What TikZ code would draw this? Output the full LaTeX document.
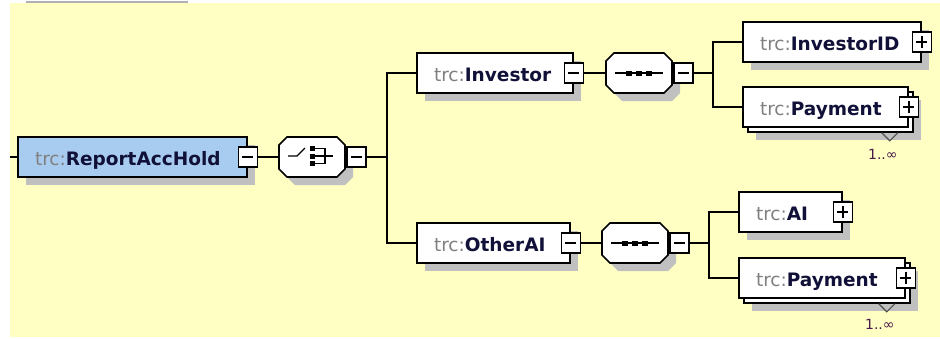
\documentclass[tikz,border=0pt]{standalone}
\usepackage{fontspec}
\setmainfont{DejaVu Sans}
\usetikzlibrary{shadows}
\definecolor{bgyellow}{RGB}{255,255,196}
\definecolor{rootblue}{RGB}{168,204,240}
\definecolor{shadowgrey}{RGB}{192,192,192}
\definecolor{pfxgrey}{RGB}{128,128,128}
\definecolor{namecol}{RGB}{16,16,56}
\definecolor{multcol}{RGB}{72,24,72}
\definecolor{topgrey}{RGB}{176,176,176}
\definecolor{vgrey}{RGB}{80,80,80}
\newcommand\xname[3]{\raisebox{0pt}[16pt][0pt]{\makebox[#1pt][l]{\textcolor{pfxgrey}{#2}\textcolor{namecol}{\bfseries #3}}}}
\newcommand\octagon[1]{%
  \begin{scope}[shift={(#1.center)}]
    \fill[shadowgrey, shift={(8,8)}] (-25,-20) -- (25,-20) -- (33,-12) -- (33,12) -- (25,20) -- (-25,20) -- (-33,12) -- (-33,-12) -- cycle;
    \filldraw[fill=white, draw=black, line width=1.6pt] (-25,-20) -- (25,-20) -- (33,-12) -- (33,12) -- (25,20) -- (-25,20) -- (-33,12) -- (-33,-12) -- cycle;
  \end{scope}}
\begin{document}
\begin{tikzpicture}[x=1pt,y=-1pt,
  conn/.style={line width=1.6pt, draw=black},
  elembase/.style={rectangle, draw=black, line width=1.6pt, fill=white,
     minimum height=40pt, inner xsep=17pt, inner ysep=0pt,
     font=\fontsize{18.5pt}{20pt}\selectfont},
  elem/.style={elembase,
     general shadow={shadow xshift=8pt, shadow yshift=-8pt, draw=none, fill=shadowgrey}},
  multi/.style={elembase,
     general shadow={shadow xshift=13pt, shadow yshift=-13pt, draw=none, fill=shadowgrey},
     general shadow={shadow xshift=5pt, shadow yshift=-5pt, draw=black, line width=1.6pt, fill=white}},
  compnode/.style={rectangle, minimum width=66pt, minimum height=40pt, inner sep=0pt},
  expm/.style={rectangle, draw=black, line width=1.4pt, fill=white, minimum width=19pt,
     minimum height=20pt, inner sep=0pt,
     path picture={\draw[line width=1.4pt] ([xshift=4pt]path picture bounding box.west) -- ([xshift=-4pt]path picture bounding box.east);}},
  expp/.style={rectangle, draw=black, line width=1.4pt, fill=white, minimum width=19pt,
     minimum height=20pt, inner sep=0pt,
     path picture={\draw[line width=1.4pt] ([xshift=4pt]path picture bounding box.west) -- ([xshift=-4pt]path picture bounding box.east);
       \draw[line width=1.4pt] ([yshift=-4pt]path picture bounding box.north) -- ([yshift=4pt]path picture bounding box.south);}},
  mult/.style={font=\fontsize{14pt}{16pt}\selectfont, text=multcol, inner sep=0pt, anchor=east},
  icon/.style={line width=1.4pt, draw=black},
  vmark/.style={line width=1.2pt, draw=vgrey}
]
\useasboundingbox (0,0) rectangle (940,338);
\fill[white] (0,0) rectangle (940,338);
\fill[bgyellow] (10,3) rectangle (940,337);
\fill[topgrey] (26,0.5) rectangle (188,2.5);

% root and choice
\node[elem, fill=rootblue] (root) at (132.5,157) {\xname{195}{trc:}{ReportAccHold}};
\node[expm] (rootexp) at (root.east) {};
\node[compnode] (choice) at (312,157) {};
\octagon{choice}
\node[expm] (choiceexp) at (356.5,157) {};

% investor branch
\node[elem] (investor) at (495,73) {\xname{122}{trc:}{Investor}};
\node[expm] (invexp) at (investor.east) {};
\node[compnode] (seqa) at (639,73) {};
\octagon{seqa}
\node[expm] (seqaexp) at (683.5,73) {};
\node[elem] (investorid) at (832,42) {\xname{144}{trc:}{InvestorID}};
\node[expp] (idexp) at (investorid.east) {};
\node[multi] (paya) at (825.5,107) {\xname{131}{trc:}{Payment}};
\node[expp] (payaexp) at (paya.east) {};
\draw[vmark] ([shift={(-27,5)}]paya.south east) -- ++(8,8) -- ++(8,-8);
\node[mult] (multa) at ([shift={(-11,27)}]paya.south east) {1..∞};

% other AI branch
\node[elem] (otherai) at (493.5,243) {\xname{119}{trc:}{OtherAI}};
\node[expm] (oaexp) at (otherai.east) {};
\node[compnode] (seqb) at (635,243) {};
\octagon{seqb}
\node[expm] (seqbexp) at (679.5,243) {};
\node[elem] (ai) at (790.5,212) {\xname{69}{trc:}{AI}};
\node[expp] (aiexp) at (ai.east) {};
\node[multi] (payb) at (822,278) {\xname{132}{trc:}{Payment}};
\node[expp] (paybexp) at (payb.east) {};
\draw[vmark] ([shift={(-27,5)}]payb.south east) -- ++(8,8) -- ++(8,-8);
\node[mult] (multb) at ([shift={(-11,26)}]payb.south east) {1..∞};

% choice icon
\begin{scope}[shift={(choice.center)}]
  \draw[icon] (-24,-1) -- (-15,-1) -- (-7,-9);
  \fill (-2,-11) rectangle (3,-6);
  \fill (-2,-3.5) rectangle (3,1.5);
  \fill (-2,4) rectangle (3,9);
  \draw[icon] (3,-8.5) -- (13,-8.5) -- (13,6.5) -- (3,6.5);
  \draw[icon] (3,-1) -- (21,-1);
\end{scope}
% sequence icons
\foreach \s in {seqa,seqb}{
  \begin{scope}[shift={(\s.center)}]
    \draw[icon] (-24,0) -- (24,0);
    \fill (-13,-2.5) rectangle (-7,2.5);
    \fill (-3,-2.5) rectangle (3,2.5);
    \fill (7,-2.5) rectangle (13,2.5);
  \end{scope}
}

% connectors
\coordinate (in) at (10,157);
\draw[conn] (in) -- (root.west);
\draw[conn] (rootexp.east) -- (choice.west);
\coordinate (ja) at (387,157);
\draw[conn] (choiceexp.east) -- (ja);
\draw[conn] (ja) |- (investor.west);
\draw[conn] (ja) |- (otherai.west);
\draw[conn] (invexp.east) -- (seqa.west);
\coordinate (jb) at (713,73);
\draw[conn] (seqaexp.east) -- (jb);
\draw[conn] (jb) |- (investorid.west);
\draw[conn] (jb) |- (paya.west);
\draw[conn] (oaexp.east) -- (seqb.west);
\coordinate (jc) at (709,243);
\draw[conn] (seqbexp.east) -- (jc);
\draw[conn] (jc) |- (ai.west);
\draw[conn] (jc) |- (payb.west);
\end{tikzpicture}
\end{document}
